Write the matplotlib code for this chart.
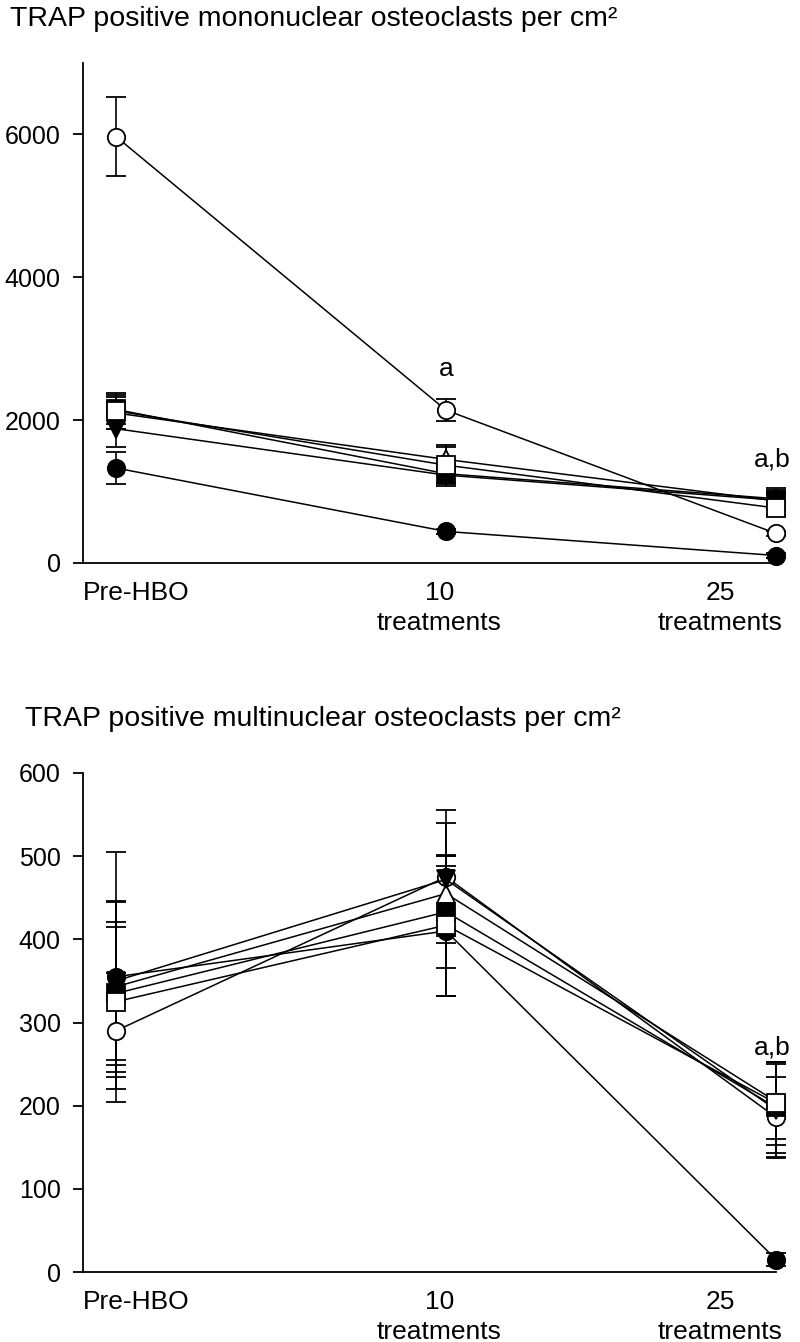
import numpy as np
import matplotlib
matplotlib.use('Agg')
import matplotlib.pyplot as plt

plt.rcParams['font.family'] = ['Liberation Sans', 'DejaVu Sans']

#%% data

x = [0, 1, 2]
cat_pos = [0.06, 0.98, 1.83]
cat_labels = ['Pre-HBO', '10\ntreatments', '25\ntreatments']

# mononuclear osteoclasts per cm2
mono_open_circle = [5970, 2140, 414]
mono_open_circle_err = [550, 150, 40]
mono_filled_circle = [1330, 442, 105]
mono_filled_circle_err = [220, 40, 30]
mono_open_square = [2130, 1370, 770]
mono_open_square_err = [250, 250, 100]
mono_filled_square = [2150, 1250, 900]
mono_filled_square_err = [200, 150, 150]
mono_open_triangle = [2100, 1450, 870]
mono_open_triangle_err = [230, 200, 100]
mono_filled_tri_down = [1880, 1230, 880]
mono_filled_tri_down_err = [260, 150, 100]

# multinuclear osteoclasts per cm2
multi_open_circle = [290, 475, 186]
multi_open_circle_err = [70, 80, 48]
multi_filled_circle = [355, 410, 15]
multi_filled_circle_err = [150, 78, 8]
multi_open_square = [325, 417, 203]
multi_open_square_err = [90, 85, 50]
multi_filled_square = [335, 433, 198]
multi_filled_square_err = [86, 67, 55]
multi_open_triangle = [343, 455, 205]
multi_open_triangle_err = [103, 45, 45]
multi_filled_tri_down = [350, 472, 195]
multi_filled_tri_down_err = [95, 68, 58]

#%% plotting

fig = plt.figure(figsize=(8, 13.42), dpi=100)
ax1 = fig.add_axes([83/800, 1-563/1342, (776-83)/800, 500/1342])
ax2 = fig.add_axes([83/800, 1-1272/1342, (776-83)/800, 499/1342])

def draw_series(ax, y, err, marker, face):
    ax.errorbar(x, y, yerr=err, color='black', lw=1.1, elinewidth=1.2,
                capsize=7, capthick=1.6, marker=marker, ms=12.5,
                mfc=face, mec='black', mew=1.3, clip_on=False)

def style_axes(ax, ylim, yticks):
    ax.set_xlim(-0.1, 2.0)
    ax.set_ylim(*ylim)
    ax.set_yticks(yticks)
    ax.spines['top'].set_visible(False)
    ax.spines['right'].set_visible(False)
    ax.spines['left'].set_linewidth(1.3)
    ax.spines['bottom'].set_linewidth(1.3)
    ax.tick_params(axis='y', direction='out', length=7, width=1.3,
                   pad=9, labelsize=18)
    ax.set_xticks(cat_pos)
    ax.set_xticklabels(cat_labels, fontsize=19, linespacing=1.3)
    ax.tick_params(axis='x', length=0, pad=13)

# top panel
draw_series(ax1, mono_open_triangle, mono_open_triangle_err, '^', 'white')
draw_series(ax1, mono_open_circle, mono_open_circle_err, 'o', 'white')
draw_series(ax1, mono_filled_tri_down, mono_filled_tri_down_err, 'v', 'black')
draw_series(ax1, mono_filled_square, mono_filled_square_err, 's', 'black')
draw_series(ax1, mono_filled_circle, mono_filled_circle_err, 'o', 'black')
draw_series(ax1, mono_open_square, mono_open_square_err, 's', 'white')
style_axes(ax1, (0, 7000), [0, 2000, 4000, 6000])
ax1.text(1.0, 2720, 'a', fontsize=19, ha='center', va='center')
ax1.text(1.99, 1450, 'a,b', fontsize=19, ha='center', va='center')

# bottom panel
draw_series(ax2, multi_open_triangle, multi_open_triangle_err, '^', 'white')
draw_series(ax2, multi_open_circle, multi_open_circle_err, 'o', 'white')
draw_series(ax2, multi_filled_tri_down, multi_filled_tri_down_err, 'v', 'black')
draw_series(ax2, multi_filled_square, multi_filled_square_err, 's', 'black')
draw_series(ax2, multi_filled_circle, multi_filled_circle_err, 'o', 'black')
draw_series(ax2, multi_open_square, multi_open_square_err, 's', 'white')
style_axes(ax2, (0, 600), [0, 100, 200, 300, 400, 500, 600])
ax2.text(1.99, 270, 'a,b', fontsize=19, ha='center', va='center')

fig.text(10/800, 1-6/1342, 'TRAP positive mononuclear osteoclasts per cm²',
         fontsize=20.5, ha='left', va='top')
fig.text(25/800, 1-706/1342, 'TRAP positive multinuclear osteoclasts per cm²',
         fontsize=20.5, ha='left', va='top')

fig.savefig('out.png', dpi=100)
